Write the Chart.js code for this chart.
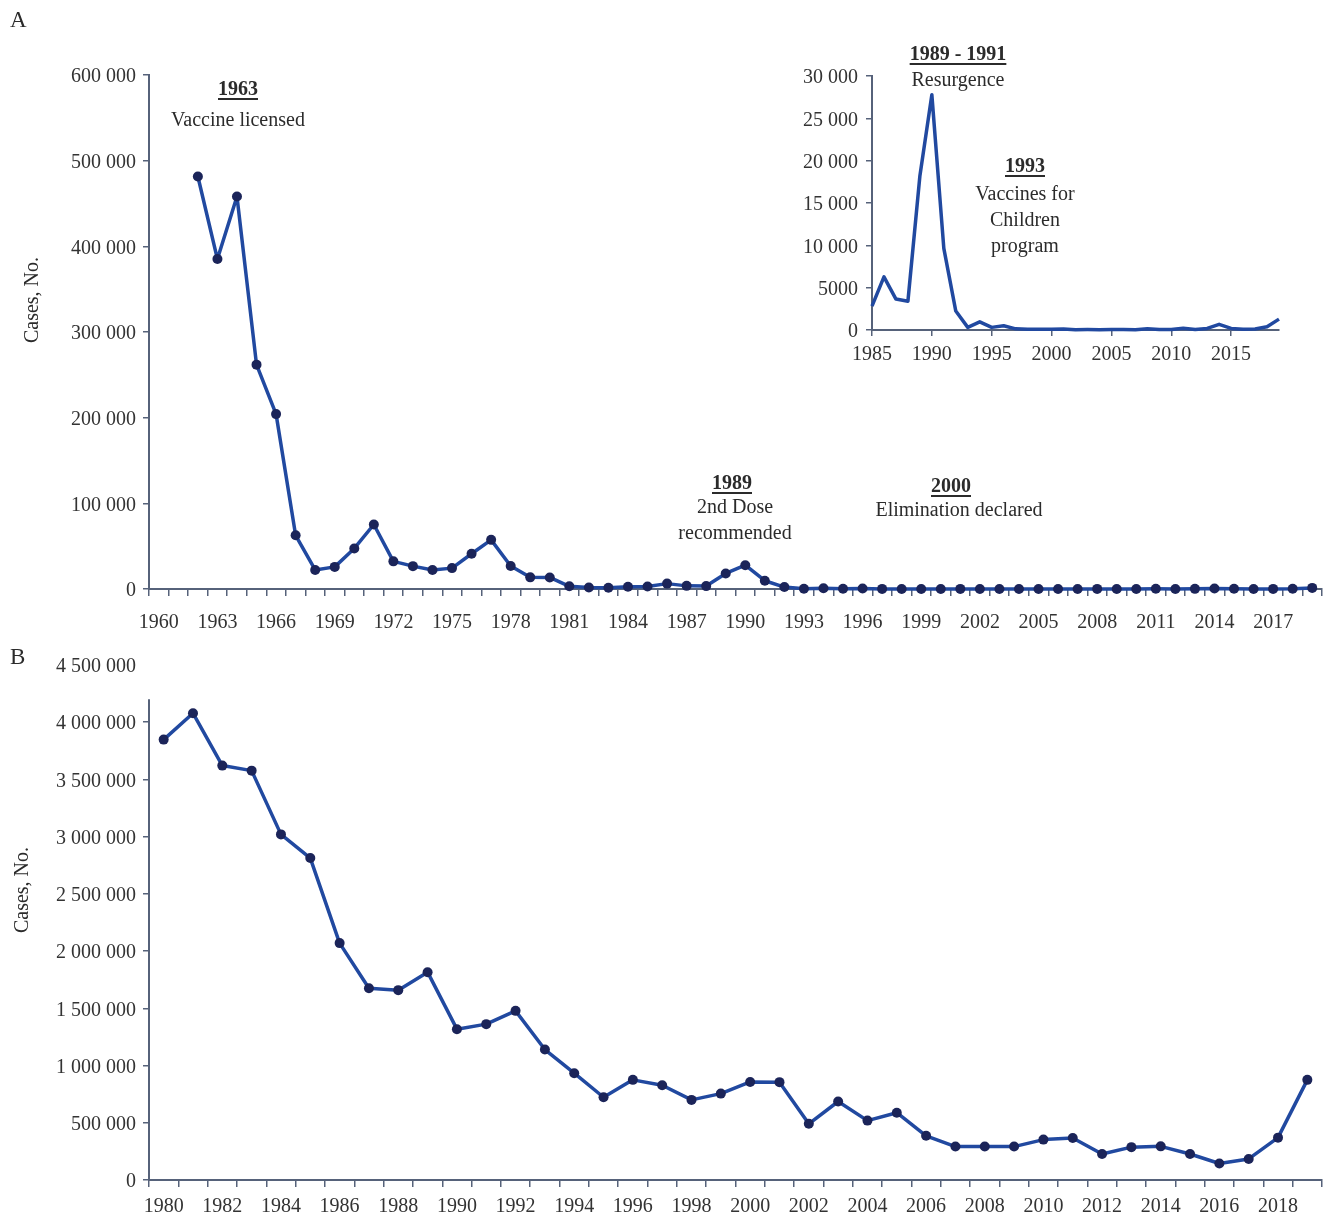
<!DOCTYPE html>
<html lang="en">
<head>
<meta charset="UTF-8">
<title>Measles cases, United States and worldwide</title>
<script src="https://cdn.jsdelivr.net/npm/chart.js@4/dist/chart.umd.min.js"></script>
<style>
  body { margin: 0; background: #fff; font-family: "Liberation Serif", "DejaVu Serif", serif; color: #2b2b2b; }
  #page { position: relative; width: 1331px; height: 1216px; overflow: hidden; }
  canvas { position: absolute; }
  .note { position: absolute; transform: translateX(-50%); font-size: 20px; line-height: 26px; white-space: nowrap; }
  .note.b { font-weight: bold; text-decoration: underline; text-decoration-thickness: 2px; text-underline-offset: 3px; }
  .panel { position: absolute; font-size: 23px; line-height: 26px; }
  .ytitle { position: absolute; font-size: 20px; white-space: nowrap; transform: translate(-50%, -50%) rotate(-90deg); }
</style>
</head>
<body>
<div id="page">
  <canvas id="chartA" width="1331" height="650" style="left:0;top:0"></canvas>
  <canvas id="chartInset" width="520" height="340" style="left:780px;top:40px"></canvas>
  <canvas id="chartB" width="1331" height="576" style="left:0;top:640px"></canvas>

  <div class="panel" style="left:10px;top:7px">A</div>
  <div class="panel" style="left:10px;top:644px">B</div>
  <div class="ytitle" style="left:31px;top:300px">Cases, No.</div>
  <div class="ytitle" style="left:21px;top:890px">Cases, No.</div>

  <div class="note b" style="left:238px;top:75px">1963</div>
  <div class="note" style="left:238px;top:106px">Vaccine licensed</div>

  <div class="note b" style="left:732px;top:469px">1989</div>
  <div class="note" style="left:735px;top:493px">2nd Dose</div>
  <div class="note" style="left:735px;top:519px">recommended</div>

  <div class="note b" style="left:951px;top:472px">2000</div>
  <div class="note" style="left:959px;top:496px">Elimination declared</div>

  <div class="note b" style="left:958px;top:40px">1989 - 1991</div>
  <div class="note" style="left:958px;top:66px">Resurgence</div>

  <div class="note b" style="left:1025px;top:152px">1993</div>
  <div class="note" style="left:1025px;top:180px">Vaccines for</div>
  <div class="note" style="left:1025px;top:206px">Children</div>
  <div class="note" style="left:1025px;top:232px">program</div>
</div>
<script>
// --- Daten ---------------------------------------------------------------
// Panel A: US-Faelle 1962-2019 (Achse 1960-2019)
const yearsA     = [];
for (let y = 1960; y <= 2019; y++) yearsA.push(String(y));
const firstYearA = 1962;
const casesA = [
  481530, 385156, 458083, 261904, 204136, 62705, 22231, 25826, 47351, 75290,
  32275, 26690, 22094, 24374, 41126, 57345, 26871, 13597, 13506, 3124,
  1714, 1497, 2587, 2822, 6282, 3655, 3396, 18193, 27786, 9643,
  2237, 312, 963, 309, 508, 138, 100, 100, 86, 116,
  44, 56, 37, 66, 55, 43, 140, 71, 63, 220,
  55, 187, 667, 188, 86, 120, 375, 1282
];
const ticksA = [0, 100000, 200000, 300000, 400000, 500000, 600000];

// Inset: 1985-2019 aus derselben Reihe
const insetStart = 1985;
const insetEnd   = 2019;
const ticksInset = [0, 5000, 10000, 15000, 20000, 25000, 30000];

// Panel B: weltweit 1980-2019
const yearsB = [];
for (let y = 1980; y <= 2019; y++) yearsB.push(String(y));
const casesB = [
  3848000, 4079000, 3621000, 3577000, 3020000, 2813000, 2070000, 1676000, 1659000, 1816000,
  1318000, 1362000, 1478000, 1140000, 933000, 723000, 875000, 828000, 700000, 755000,
  857000, 855000, 491000, 686000, 519000, 588000, 386000, 292000, 292000, 292000,
  353000, 367000, 227000, 287000, 294000, 227000, 144000, 184000, 370000, 875000
];
const ticksB   = [0, 500000, 1000000, 1500000, 2000000, 2500000, 3000000, 3500000, 4000000, 4500000];
const axisTopB = 4200000;   // Achsenlinie endet unterhalb des obersten Labels

// --- Stil ----------------------------------------------------------------
const AXIS = '#56627a';
const LINE = '#2149a0';
const DOT  = '#1b2459';
const TXT  = '#333333';
const FONT = { family: '"Liberation Serif", "DejaVu Serif", serif', size: 20 };

function fmtNum(v) {
  if (v < 10000) return String(v);
  return String(v).replace(/\B(?=(\d{3})+(?!\d))/g, ' ');
}

function yScale(ticks, width, pad, hideValue) {
  return {
    min: ticks[0], max: ticks[ticks.length - 1],
    afterBuildTicks: (s) => { s.ticks = ticks.map(v => ({ value: v })); },
    afterFit: (s) => { s.width = width; },
    ticks: { color: TXT, font: FONT, padding: pad, labelOffset: 2, callback: (v) => fmtNum(v) },
    grid: {
      drawOnChartArea: false, tickLength: 6, lineWidth: 1.5,
      color: (c) => (c.tick && c.tick.value === hideValue) ? 'rgba(0,0,0,0)' : AXIS,
    },
    border: { color: AXIS, width: 2 },
  };
}

function xCategory(labels, every, height, pad) {
  return {
    type: 'category', offset: true,
    afterFit: (s) => { s.height = height; },
    ticks: {
      autoSkip: false, maxRotation: 0, color: TXT, font: FONT, padding: pad,
      callback: (v, i) => (i % every === 0 ? labels[i] : ''),
    },
    grid: { offset: true, drawOnChartArea: false, tickLength: 7, lineWidth: 1.5, color: AXIS },
    border: { color: AXIS, width: 2 },
  };
}

const lineStyle = {
  borderColor: LINE, borderWidth: 3.5, tension: 0, clip: false, borderJoinStyle: 'round',
  pointRadius: 5, pointHoverRadius: 5, pointBackgroundColor: DOT, pointBorderWidth: 0,
};

const common = {
  responsive: false, animation: false,
  plugins: { legend: { display: false }, tooltip: { enabled: false } },
  events: [],
};

// Teil-Achsenlinie fuer Panel B
const partialYAxis = {
  id: 'partialYAxis',
  beforeDatasetsDraw(chart) {
    const y = chart.scales.y, ctx = chart.ctx;
    ctx.save();
    ctx.strokeStyle = AXIS; ctx.lineWidth = 2;
    ctx.beginPath();
    ctx.moveTo(y.right, y.getPixelForValue(0) + 1);
    ctx.lineTo(y.right, y.getPixelForValue(axisTopB));
    ctx.stroke();
    ctx.restore();
  }
};

// --- Panel A -------------------------------------------------------------
new Chart(document.getElementById('chartA'), {
  type: 'line',
  data: {
    labels: yearsA,
    datasets: [{ ...lineStyle, data: casesA.map((v, i) => ({ x: String(firstYearA + i), y: v })) }]
  },
  options: {
    ...common,
    layout: { padding: { left: 0, right: 9, top: 75, bottom: 0 } },
    scales: {
      x: xCategory(yearsA, 3, 61, 15),
      y: yScale(ticksA, 149, 7, null),
    }
  }
});

// --- Inset ---------------------------------------------------------------
const insetData = casesA
  .map((v, i) => ({ x: firstYearA + i, y: v }))
  .filter(p => p.x >= insetStart && p.x <= insetEnd);

new Chart(document.getElementById('chartInset'), {
  type: 'line',
  data: { datasets: [{ ...lineStyle, borderWidth: 3.5, pointRadius: 0, data: insetData }] },
  options: {
    ...common,
    layout: { padding: { left: 0, right: 21, top: 36, bottom: 0 } },
    scales: {
      x: {
        type: 'linear', min: insetStart, max: insetEnd,
        afterFit: (s) => { s.height = 50; },
        ticks: { stepSize: 5, includeBounds: false, color: TXT, font: FONT, padding: 7, maxRotation: 0,
                 callback: (v) => String(v) },
        grid: { drawOnChartArea: false, tickLength: 6, lineWidth: 1.5, color: AXIS },
        border: { color: AXIS, width: 2 },
      },
      y: yScale(ticksInset, 92, 8, null),
    }
  }
});

// --- Panel B -------------------------------------------------------------
const yB = yScale(ticksB, 149, 7, 4500000);
yB.border = { display: false };

new Chart(document.getElementById('chartB'), {
  type: 'line',
  data: { labels: yearsB, datasets: [{ ...lineStyle, data: casesB }] },
  options: {
    ...common,
    layout: { padding: { left: 0, right: 9, top: 25, bottom: 0 } },
    scales: {
      x: xCategory(yearsB, 2, 36, 8),
      y: yB,
    }
  },
  plugins: [partialYAxis]
});
</script>
</body>
</html>
